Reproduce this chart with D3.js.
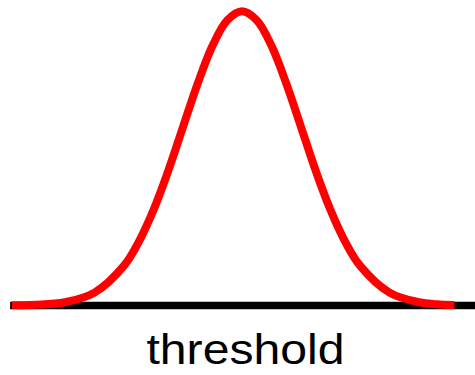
<!DOCTYPE html>
<html><head><meta charset="utf-8">
<script src="https://cdn.jsdelivr.net/npm/d3@7"></script>
<style>html,body{margin:0;padding:0;background:#fff;}svg{display:block;}</style>
</head><body>
<svg id="chart" width="475" height="375"></svg>
<script>
// values (standardised position vs. density)
const zValues = [-3.9, -3.5, -3.0, -2.5, -2.0, -1.75, -1.5, -1.25, -1.0, -0.75, -0.5, -0.25, 0, 0.25, 0.5, 0.75, 1.0, 1.25, 1.5, 1.75, 2.0, 2.5, 3.0, 3.3, 3.6];
const density = [0.0002, 0.0009, 0.0044, 0.0175, 0.0540, 0.0863, 0.1295, 0.1826, 0.2420, 0.3011, 0.3521, 0.3867, 0.3989, 0.3867, 0.3521, 0.3011, 0.2420, 0.1826, 0.1295, 0.0863, 0.0540, 0.0175, 0.0044, 0.0017, 0.0006];
const baselineExtent = [-3.93, 3.97];
const axisLabel = "threshold";

const svg = d3.select("#chart");
const x = d3.scaleLinear().domain([-4, 4]).range([6, 478]);
const y = d3.scaleLinear().domain([0, 0.4]).range([305.5, 10.5]);

svg.append("line")
  .attr("x1", x(baselineExtent[0])).attr("x2", x(baselineExtent[1]))
  .attr("y1", y(0)).attr("y2", y(0))
  .attr("stroke", "#000").attr("stroke-width", 7.5);

const pts = zValues.map((z, i) => [z, density[i]]);
svg.append("path")
  .datum(pts)
  .attr("fill", "none")
  .attr("stroke", "#ff0000")
  .attr("stroke-width", 8)
  .attr("stroke-linejoin", "round")
  .attr("d", d3.line().x(d => x(d[0])).y(d => y(d[1])).curve(d3.curveCatmullRom));

svg.append("text")
  .attr("x", 0).attr("y", 0)
  .attr("transform", "translate(245.5,364) scale(1.12,1)")
  .attr("text-anchor", "middle")
  .attr("font-family", "'Liberation Sans', Arial, sans-serif")
  .attr("font-size", 43)
  .attr("fill", "#000")
  .text(axisLabel);
</script>
</body></html>
